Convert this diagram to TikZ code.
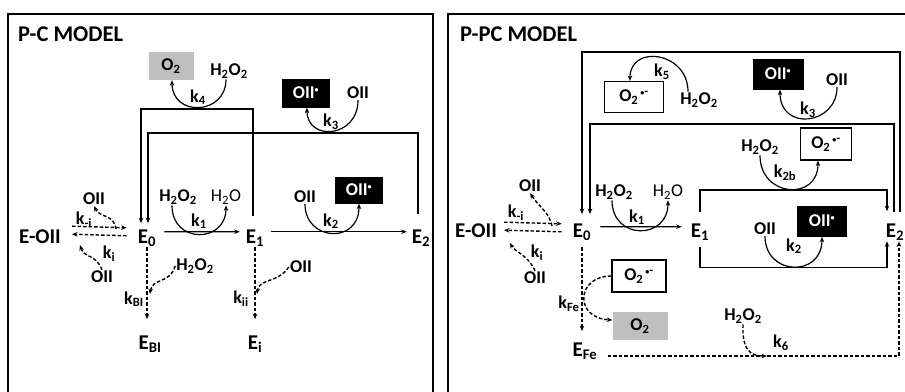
\documentclass[tikz,border=0pt]{standalone}
\usepackage{fontspec}
\setmainfont{Carlito}
\usetikzlibrary{arrows.meta}
\newcommand{\sbs}[1]{\textsubscript{#1}}
\newcommand{\sps}[1]{\textsuperscript{#1}}
\newcommand{\rad}{\textsuperscript{\fontsize{8}{8}\selectfont •}}
\newcommand{\srad}{\textsuperscript{\,{\fontsize{8}{8}\selectfont •}-}}
\begin{document}
\begin{tikzpicture}[x=1pt,y=-1pt,
  lab/.style={font=\fontsize{18}{20}\selectfont\bfseries, inner sep=1pt},
  labr/.style={font=\fontsize{18}{20}\selectfont, inner sep=1pt},
  enode/.style={font=\fontsize{21}{23}\selectfont\bfseries, inner sep=1pt, anchor=base},
  ttl/.style={font=\fontsize{22.5}{24}\selectfont\bfseries, inner sep=0pt, anchor=base west},
  blk/.style={lab, fill=black, text=white, minimum width=48pt, minimum height=29pt},
  gry/.style={lab, fill=black!25, minimum width=45pt, minimum height=28pt},
  wbox/.style={lab, draw, line width=1.2pt, fill=white, minimum width=55pt, minimum height=31pt},
  tip/.style={-{Stealth[length=5.5pt,width=4.5pt]}},
  conn/.style={line width=1.2pt, tip},
  dconn/.style={conn, line width=1.4pt, dash pattern=on 3.5pt off 2pt},
  loopa/.style={line width=1.4pt},
  frame/.style={line width=1.9pt}]
\clip (0,0) rectangle (905,391);
\fill[white] (0,0) rectangle (905,391);
% frames
\draw[frame] (8,14) rectangle (433,430);
\draw[frame] (448,14) rectangle (940,430);
\node[ttl] (tL) at (18,41) {P-C MODEL};
\node[ttl] (tR) at (460,41) {P-PC MODEL};

% ================= LEFT PANEL =================
\node[enode] (EOIIL) at (40,243) {E-OII};
\node[enode] (E0L) at (147,243) {E\sbs{0}};
\node[enode] (E1L) at (255,243) {E\sbs{1}};
\node[enode] (E2L) at (421,243) {E\sbs{2}};
\node[enode] (EBI) at (150,349) {E\sbs{BI}};
\node[enode] (Ei) at (255,349) {E\sbs{i}};

\node[gry] (O2a) at (171,66) {O\sbs{2}};
\node[lab] (H2O2a) at (229,71) {H\sbs{2}O\sbs{2}};
\node[lab] (k4) at (198,97) {k\sbs{4}};
\node[blk] (OIIda) at (306,93) {OII\rad};
\node[lab] (OIIa) at (358,93) {OII};
\node[lab] (k3a) at (331,122) {k\sbs{3}};

\node[lab] (H2O2b) at (178,197) {H\sbs{2}O\sbs{2}};
\node[labr] (H2Ob) at (226,197) {H\sbs{2}O};
\node[lab] (k1a) at (199,221) {k\sbs{1}};
\node[lab] (OIIb) at (305,197) {OII};
\node[blk, minimum height=27pt] (OIIdb) at (359,190) {OII\rad};
\node[lab] (k2a) at (331,221) {k\sbs{2}};

\node[lab] (OIIc) at (94,199) {OII};
\node[lab] (kmiL) at (84,220) {k\sbs{-i}};
\node[lab] (kiL) at (109,254) {k\sbs{i}};
\node[lab] (OIId) at (102,277) {OII};
\node[lab] (kBI) at (134,299) {k\sbs{BI}};
\node[lab] (H2O2c) at (195,266) {H\sbs{2}O\sbs{2}};
\node[lab] (kii) at (241,299) {k\sbs{ii}};
\node[lab] (OIIe) at (301,267) {OII};

\coordinate (cLa) at (116,229);
\coordinate (cLb) at (80,245);
\coordinate (cLc) at (150,294);
\coordinate (cLd) at (257,294);

% loops
\draw[loopa, tip, shorten >=5pt] ([xshift=-2pt,yshift=12pt]E1L.north) -- ++(0,-107) -| ([xshift=-6pt]E0L.north);
\draw[loopa, tip, shorten >=5pt] ([xshift=-3pt,yshift=14pt]E2L.north) -- ++(0,-81) -| ([xshift=1pt]E0L.north);
% arcs
\draw[conn] ([xshift=-3pt]H2O2a.south) .. controls +(0,36) and +(0,37) .. ([xshift=1pt]O2a.south);
\draw[conn] (OIIa.south) .. controls +(0,38) and +(0,34) .. ([xshift=1pt]OIIda.south);
\draw[conn] ([xshift=-6pt]H2O2b.south) .. controls +(0,39) and +(0,38) .. (H2Ob.south);
\draw[conn] (OIIb.south) .. controls +(0,37) and +(0,41) .. (OIIdb.south);
% main arrows
\draw[conn] ([xshift=7pt,yshift=6pt]E0L.east) -- ([xshift=-5pt,yshift=6pt]E1L.west);
\draw[conn] ([xshift=6pt,yshift=6pt]E1L.east) -- ([xshift=-4pt,yshift=6pt]E2L.west);
\draw[dconn] ([xshift=10pt,yshift=10pt]EOIIL.east) -- ([xshift=-10pt,yshift=10pt]E0L.west);
\draw[dconn] ([xshift=-10pt,yshift=2pt]E0L.west) -- ([xshift=10pt,yshift=2pt]EOIIL.east);
\draw[dconn, shorten >=15pt] (E0L.south) -- (E0L.south |- EBI.north);
\draw[dconn, shorten >=15pt] (E1L.south) -- (E1L.south |- Ei.north);
% dashed side curves
\draw[dconn] (cLa) .. controls (114,214) and (100,218) .. (OIIc.south);
\draw[dconn] (OIId.north) .. controls (96,254) and (84,258) .. (cLb);
\draw[dconn] (H2O2c.west) .. controls (170,284) and (152,278) .. (cLc);
\draw[dconn] (OIIe.west) .. controls (277,284) and (259,278) .. (cLd);

% ================= RIGHT PANEL =================
\node[enode] (EOIIR) at (476,237) {E-OII};
\node[enode] (E0R) at (582,237) {E\sbs{0}};
\node[enode] (E1R) at (700,237) {E\sbs{1}};
\node[enode] (E2R) at (895,237) {E\sbs{2}};
\node[enode] (EFe) at (585,356) {E\sbs{Fe}};

\node[wbox, minimum width=59pt] (O2ma) at (634,97) {O\sbs{2}\srad};
\node[lab] (H2O2d) at (699,100) {H\sbs{2}O\sbs{2}};
\node[lab] (k5) at (662,72) {k\sbs{5}};
\node[blk, minimum width=51pt, minimum height=31pt] (OIIdc) at (778,74) {OII\rad};
\node[lab] (OIIf) at (837,80) {OII};
\node[lab] (k3b) at (808,110) {k\sbs{3}};
\node[wbox, minimum width=51pt, minimum height=32pt] (O2mb) at (826,144) {O\sbs{2}\srad};
\node[lab] (H2O2e) at (760,147) {H\sbs{2}O\sbs{2}};
\node[lab] (k2b) at (785,173) {k\sbs{2b}};

\node[lab] (H2O2f) at (614,192) {H\sbs{2}O\sbs{2}};
\node[labr] (H2Of) at (668,192) {H\sbs{2}O};
\node[lab] (k1b) at (637,217) {k\sbs{1}};
\node[lab] (OIIg) at (765,229) {OII};
\node[blk, minimum width=50pt, minimum height=31pt] (OIIdd) at (822,221) {OII\rad};
\node[lab] (k2c) at (794,246) {k\sbs{2}};

\node[lab] (OIIh) at (530,186) {OII};
\node[lab] (kmiR) at (516,213) {k\sbs{-i}};
\node[lab] (kiR) at (537,253) {k\sbs{i}};
\node[lab] (OIIi) at (535,278) {OII};
\node[lab] (kFe) at (569,304) {k\sbs{Fe}};
\node[wbox, minimum width=54pt, minimum height=32pt] (O2mc) at (639,276) {O\sbs{2}\srad};
\node[gry, minimum width=55pt] (O2b) at (640,326) {O\sbs{2}};
\node[lab] (H2O2g) at (743,316) {H\sbs{2}O\sbs{2}};
\node[lab] (k6) at (781,343) {k\sbs{6}};

\coordinate (cRa) at (552,226);
\coordinate (cRb) at (510,243);
\coordinate (cRc) at (767,356);

% loops
\draw[loopa, tip, shorten >=8pt] ([xshift=5pt,yshift=10pt]E2R.north) -- ++(0,-160) -| (E0R.north);
\draw[loopa, tip, shorten >=8pt] ([xshift=-1pt,yshift=10pt]E2R.north) -- ++(0,-88) -| ([xshift=8pt]E0R.north);
\draw[loopa, tip, shorten >=11pt] ([yshift=10pt]E1R.north) -- ++(0,-22) -| ([xshift=-8pt]E2R.north);
\draw[loopa, tip] ([yshift=-6pt]E1R.south) -- ++(0,20) -| ([xshift=-8pt]E2R.south);
% arcs
\draw[conn] ([xshift=-11pt]H2O2d.north) .. controls +(0,-40) and +(0,-37) .. ([xshift=-4pt]O2ma.north);
\draw[conn] (OIIf.south) .. controls +(0,38) and +(0,42) .. ([xshift=2pt]OIIdc.south);
\draw[conn] (H2O2e.south) .. controls +(0,42) and +(0,41) .. ([xshift=-8pt]O2mb.south);
\draw[conn] ([xshift=-2pt]H2O2f.south) .. controls +(0,40) and +(0,40) .. (H2Of.south);
\draw[conn] (OIIg.south) .. controls +(0,40) and +(0,41) .. (OIIdd.south);
% main arrows
\draw[conn] ([xshift=8pt,yshift=5pt]E0R.east) -- ([xshift=-8pt,yshift=5pt]E1R.west);
\draw[dconn] ([xshift=6pt,yshift=8pt]EOIIR.east) -- ([xshift=-10pt,yshift=8pt]E0R.west);
\draw[dconn] ([xshift=-10pt,yshift=0pt]E0R.west) -- ([xshift=6pt,yshift=0pt]EOIIR.east);
\draw[dconn, shorten >=10pt] ([yshift=-6pt]E0R.south) -- (E0R.south |- EFe.north);
\draw[dconn] ([xshift=9pt,yshift=-5pt]EFe.east) -| ([xshift=4pt]E2R.south);
% dashed side curves
\draw[dconn] (cRa) .. controls (549,212) and (540,208) .. (OIIh.south);
\draw[dconn] (OIIi.north) .. controls (528,255) and (515,252) .. (cRb);
\draw[dconn] (O2mc.west) .. controls (576,276) and (574,318) .. ([yshift=6pt]O2b.west);
\draw[dconn] (H2O2g.south) .. controls (742,350) and (750,356) .. (cRc);
\end{tikzpicture}
\end{document}
